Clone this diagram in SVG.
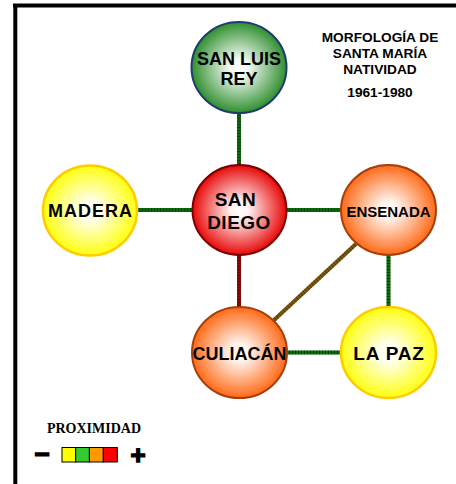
<svg xmlns="http://www.w3.org/2000/svg" width="456" height="484" viewBox="0 0 456 484">
<defs>
<radialGradient id="gGreen" cx="50%" cy="50%" r="50%"><stop offset="0" stop-color="#ffffff"/><stop offset="0.2" stop-color="#f2f8f2"/><stop offset="1" stop-color="#2f8f2f"/></radialGradient>
<radialGradient id="gRed" cx="50%" cy="50%" r="50%"><stop offset="0" stop-color="#ffffff"/><stop offset="0.2" stop-color="#fff0f0"/><stop offset="1" stop-color="#e80808"/></radialGradient>
<radialGradient id="gYellow" cx="50%" cy="50%" r="50%"><stop offset="0" stop-color="#ffffff"/><stop offset="0.2" stop-color="#fffff0"/><stop offset="1" stop-color="#ffff10"/></radialGradient>
<radialGradient id="gOrange" cx="50%" cy="50%" r="50%"><stop offset="0" stop-color="#ffffff"/><stop offset="0.2" stop-color="#fff3ec"/><stop offset="1" stop-color="#ff6a18"/></radialGradient>
</defs>
<style>
.lbl{font-family:"Liberation Sans",Arial,sans-serif;font-weight:bold;fill:#000;text-anchor:middle}
.ttl{font-family:"Liberation Sans",Arial,sans-serif;font-weight:bold;font-size:13.7px;fill:#000;text-anchor:middle}
.sym{font-family:"Liberation Sans",Arial,sans-serif;font-weight:bold;fill:#000;stroke:#000;text-anchor:middle}
.green{stroke:#0b6a0b;stroke-width:4;fill:none}
.greenTex{stroke:#003300;stroke-width:4;stroke-dasharray:1 2;fill:none;opacity:0.6}
.red{stroke:#8c0a0a;stroke-width:4;fill:none}
.redTex{stroke:#4a0000;stroke-width:4;stroke-dasharray:1 2;fill:none;opacity:0.6}
.brown{stroke:#7d5a12;stroke-width:4;fill:none}
.brownTex{stroke:#3a2800;stroke-width:4;stroke-dasharray:1 2;fill:none;opacity:0.6}
.nG{fill:url(#gGreen);stroke:#1c3d6e;stroke-width:2}
.nR{fill:url(#gRed);stroke:#7a0000;stroke-width:2}
.nY{fill:url(#gYellow);stroke:#ffcc00;stroke-width:2.5}
.nO{fill:url(#gOrange);stroke:#a83e08;stroke-width:2}
.box{stroke:#000;stroke-width:1}
</style>
<rect x="0" y="0" width="456" height="484" fill="#ffffff"/>
<g id="frame">
<line x1="13" y1="5.5" x2="456" y2="5.5" stroke="#000" stroke-width="4"/>
<line x1="15.3" y1="4" x2="15.3" y2="484" stroke="#000" stroke-width="4"/>
</g>
<g id="connectors">
<line class="green" x1="239" y1="112" x2="239" y2="166"/><line class="greenTex" x1="239" y1="112" x2="239" y2="166"/>
<line class="green" x1="136" y1="210" x2="193" y2="210"/><line class="greenTex" x1="136" y1="210" x2="193" y2="210"/>
<line class="green" x1="286" y1="210" x2="342" y2="210"/><line class="greenTex" x1="286" y1="210" x2="342" y2="210"/>
<line class="red" x1="239" y1="254" x2="239" y2="308"/><line class="redTex" x1="239" y1="254" x2="239" y2="308"/>
<line class="brown" x1="357" y1="243" x2="273" y2="321"/><line class="brownTex" x1="357" y1="243" x2="273" y2="321"/>
<line class="green" x1="388.5" y1="254" x2="388.5" y2="308"/><line class="greenTex" x1="388.5" y1="254" x2="388.5" y2="308"/>
<line class="green" x1="286" y1="352.5" x2="342" y2="352.5" stroke-width="6"/><line class="greenTex" x1="286" y1="352.5" x2="342" y2="352.5" stroke-width="6"/>
</g>
<g id="san-luis-rey">
<ellipse class="nG" cx="239" cy="67.5" rx="47.5" ry="45.5"/>
<text class="lbl" x="239" y="65" font-size="18">SAN LUIS</text>
<text class="lbl" x="239" y="85" font-size="18">REY</text>
</g>
<g id="madera">
<ellipse class="nY" cx="90" cy="210.5" rx="47" ry="45"/>
<text class="lbl" x="90.5" y="217" font-size="18" letter-spacing="1">MADERA</text>
</g>
<g id="san-diego">
<ellipse class="nR" cx="239.5" cy="210" rx="47" ry="45"/>
<text class="lbl" x="235.5" y="206" font-size="19" letter-spacing="0.5">SAN</text>
<text class="lbl" x="239" y="229" font-size="19" letter-spacing="0.5">DIEGO</text>
</g>
<g id="ensenada">
<ellipse class="nO" cx="388.5" cy="210" rx="47.5" ry="45"/>
<text class="lbl" x="388.5" y="217" font-size="15">ENSENADA</text>
</g>
<g id="culiacan">
<ellipse class="nO" cx="239.5" cy="352.5" rx="47.5" ry="45.5"/>
<text class="lbl" x="239.5" y="360" font-size="18">CULIACÁN</text>
</g>
<g id="la-paz">
<ellipse class="nY" cx="388.5" cy="352.5" rx="47.5" ry="45.5"/>
<text class="lbl" x="389" y="360" font-size="19" letter-spacing="0.8">LA PAZ</text>
</g>
<g id="title">
<text class="ttl" x="380" y="42">MORFOLOGÍA DE</text>
<text class="ttl" x="380" y="58">SANTA MARÍA</text>
<text class="ttl" x="380" y="74">NATIVIDAD</text>
<text class="ttl" x="380" y="97">1961-1980</text>
</g>
<g id="legend">
<text x="94" y="433" font-family="'Liberation Serif','Times New Roman',serif" font-weight="bold" font-size="14" text-anchor="middle">PROXIMIDAD</text>
<text class="sym" x="42" y="463" font-size="26" stroke-width="1.6">−</text>
<rect class="box" x="62" y="447.5" width="13.7" height="14.5" fill="#ffff00"/>
<rect class="box" x="75.7" y="447.5" width="13.7" height="14.5" fill="#33cc33"/>
<rect class="box" x="89.4" y="447.5" width="13.9" height="14.5" fill="#ff9900"/>
<rect class="box" x="103.3" y="447.5" width="14" height="14.5" fill="#ff0000"/>
<text class="sym" x="138" y="464" font-size="26" stroke-width="1.4">+</text>
</g>
</svg>
